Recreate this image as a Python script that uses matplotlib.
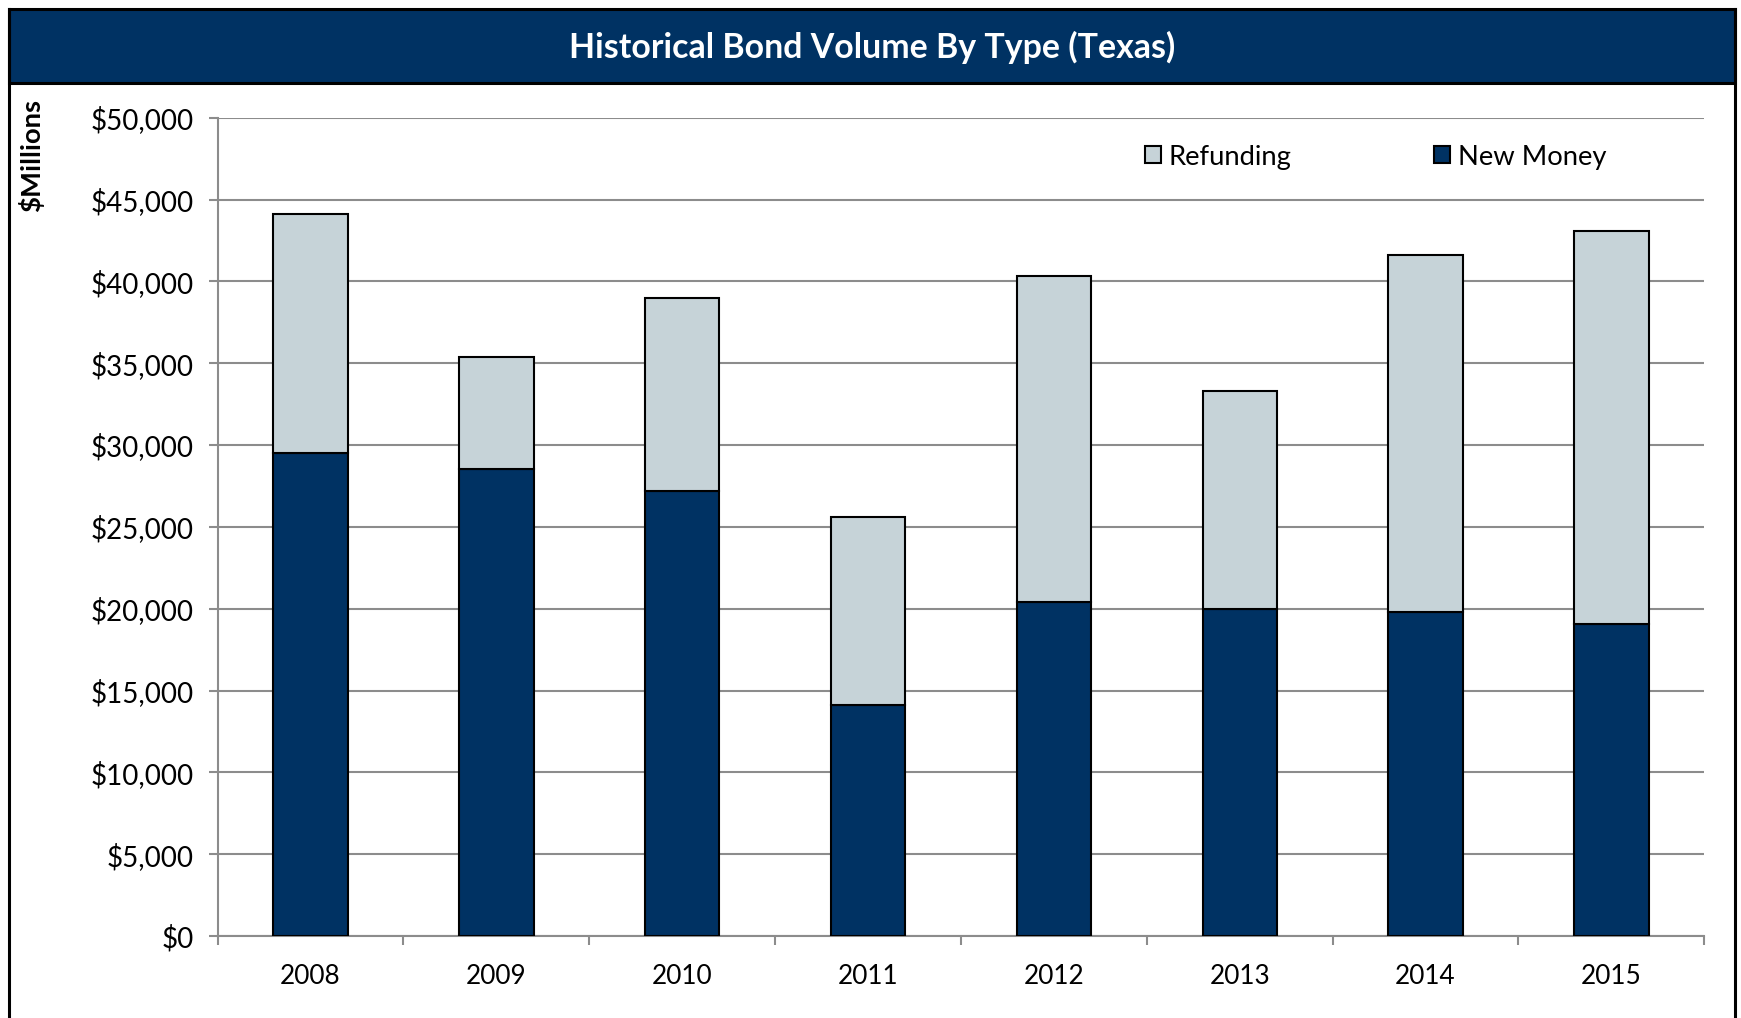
import matplotlib
matplotlib.use("Agg")
import matplotlib.pyplot as plt
from matplotlib.patches import Rectangle
from matplotlib.lines import Line2D
from matplotlib.ticker import FuncFormatter, MultipleLocator
import numpy as np

years = ["2008", "2009", "2010", "2011", "2012", "2013", "2014", "2015"]
new_money = [29500, 28550, 27200, 14100, 20400, 20000, 19800, 19050]
total = [44100, 35400, 39000, 25600, 40300, 33300, 41600, 43100]
refunding = [t - n for t, n in zip(total, new_money)]

NAVY = "#003263"
LIGHT = "#C6D3D8"
GRID = "#8C8C8C"

plt.rcParams["font.family"] = ["Lato", "DejaVu Sans"]

W, H = 1741, 1018
fig = plt.figure(figsize=(W / 100, H / 100), dpi=100)

def fx(px):
    return px / W

def fy(py):
    return 1 - py / H

# frame border (left, top, right; bottom cut off)
fig.add_artist(Line2D([fx(9), fx(9)], [0, fy(9)], color="black", lw=2.2, transform=fig.transFigure))
fig.add_artist(Line2D([fx(1735), fx(1735)], [0, fy(9)], color="black", lw=2.2, transform=fig.transFigure))
# title bar
fig.add_artist(Rectangle((fx(9), fy(83)), fx(1735) - fx(9), fy(9) - fy(83), facecolor=NAVY,
                         edgecolor="black", lw=2.2, transform=fig.transFigure))
fig.text(fx(872), fy(47), "Historical Bond Volume By Type (Texas)", color="white",
         fontsize=24.4, fontweight="bold", ha="center", va="center")

ax = fig.add_axes([fx(217.6), fy(936), fx(1704.3) - fx(217.6), fy(117.7) - fy(936)])
x = np.arange(len(years))
ax.bar(x, new_money, width=0.4, color=NAVY, edgecolor="black", linewidth=1.5, zorder=3, label="New Money")
ax.bar(x, refunding, bottom=new_money, width=0.4, color=LIGHT, edgecolor="black", linewidth=1.5, zorder=3,
       label="Refunding")

ax.set_xlim(-0.5, len(years) - 0.5)
ax.set_ylim(0, 50000)
ax.yaxis.set_major_locator(MultipleLocator(5000))
ax.yaxis.set_major_formatter(FuncFormatter(lambda v, p: "${:,.0f}".format(v)))
ax.grid(axis="y", color=GRID, lw=1.5, zorder=0)
ax.set_axisbelow(True)

# x ticks at category boundaries, labels centered
ax.set_xticks(np.arange(-0.5, len(years), 1.0))
ax.set_xticklabels([])
ax.set_xticks(x, minor=True)
ax.set_xticklabels(years, minor=True)
ax.tick_params(axis="x", which="major", direction="out", length=6.5, width=1.5, color=GRID)
ax.tick_params(axis="x", which="minor", length=0, pad=20, labelsize=18.8)
ax.tick_params(axis="y", direction="out", length=6.5, width=1.5, color=GRID, labelsize=20, pad=10.5)

for s in ["top", "right"]:
    ax.spines[s].set_visible(False)
for s in ["left", "bottom"]:
    ax.spines[s].set_color(GRID)
    ax.spines[s].set_linewidth(1.5)

fig.text(fx(31), fy(99), "$Millions", rotation=90, fontsize=19.7, fontweight="bold",
         ha="center", va="top")

# legend
handles = [Rectangle((0, 0), 1, 1, facecolor=LIGHT, edgecolor="black", lw=1.5),
           Rectangle((0, 0), 1, 1, facecolor=NAVY, edgecolor="black", lw=1.5)]
leg = fig.legend(handles, ["Refunding", "New Money"], loc="center left",
                 bbox_to_anchor=(fx(1145), fy(157)), ncol=2, frameon=False, fontsize=19.7,
                 handlelength=0.57, handleheight=0.57, handletextpad=0.3, columnspacing=5.2,
                 borderpad=0, borderaxespad=0)

fig.savefig("out.png", dpi=100)
